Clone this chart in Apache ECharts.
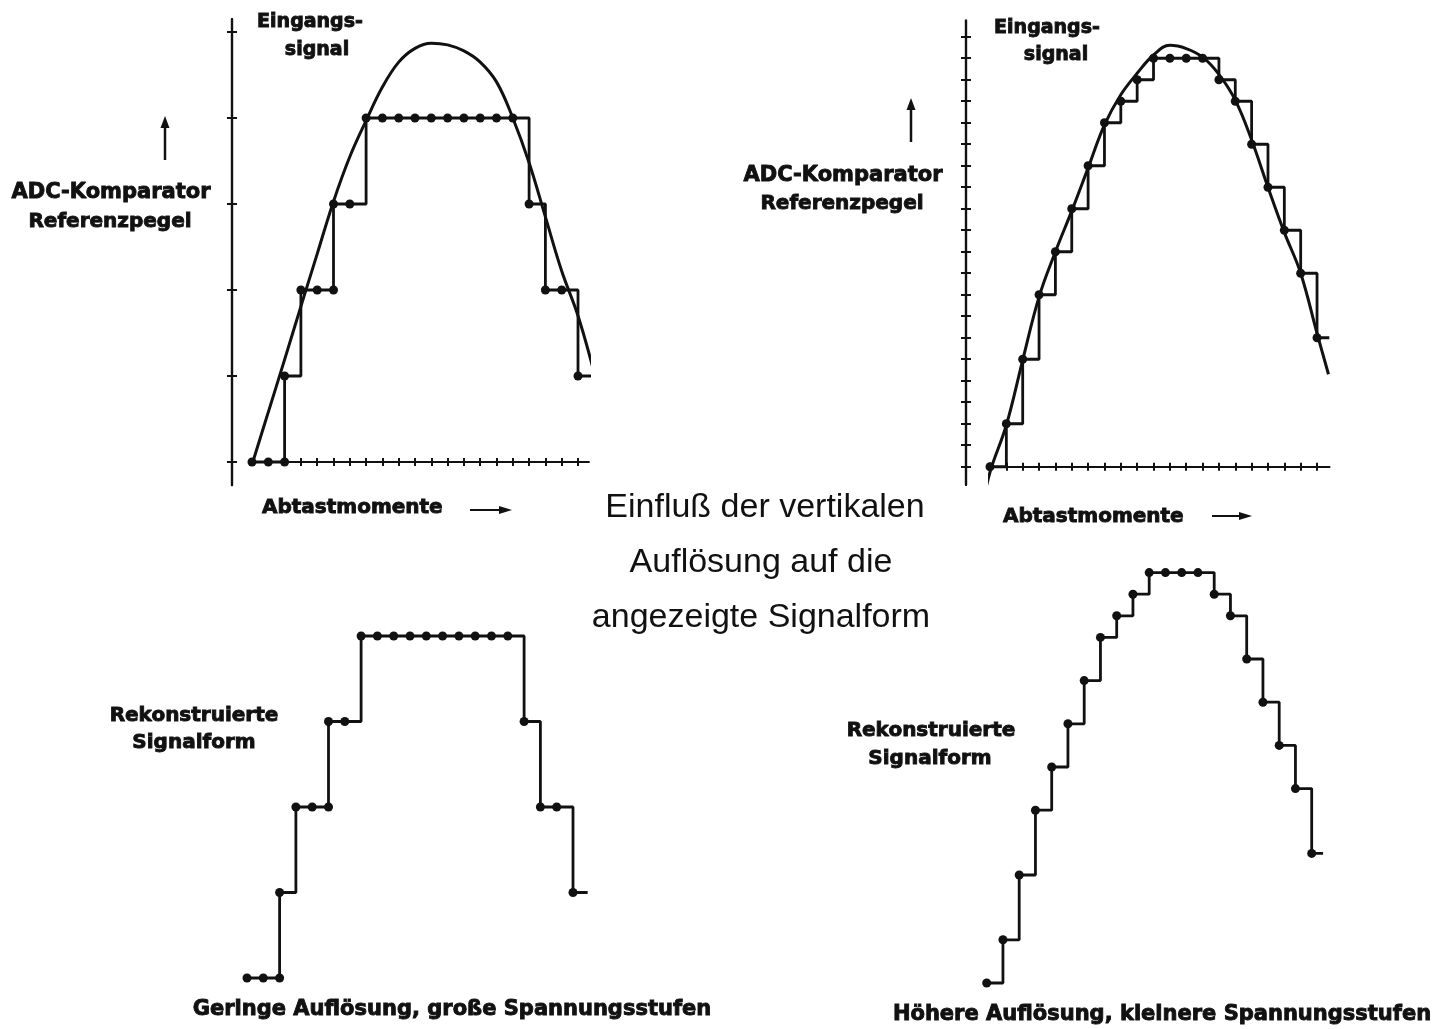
<!DOCTYPE html>
<html lang="de">
<head>
<meta charset="UTF-8">
<title>Einfluß der vertikalen Auflösung</title>
<style>
  html, body { margin: 0; padding: 0; background: #fff; }
  #chart { width: 1447px; height: 1029px; }
</style>
</head>
<body>
<div id="chart"></div>
<script src="https://cdn.jsdelivr.net/npm/echarts@6/dist/echarts.min.js"></script>
<script>
// Abtastmomente (Index des Abtastzeitpunkts)
var sampleTimes = [0, 1, 2, 3, 4, 5, 6, 7, 8, 9, 10, 11, 12, 13, 14, 15, 16, 17, 18, 19, 20];

// geringe Auflösung: 5 Spannungsstufen
var lowLevels = [0, 0, 1, 2, 2, 3, 3, 4, 4, 4, 4, 4, 4, 4, 4, 4, 4, 3, 2, 2, 1];
var lowExtraDots = [[2, 0], [5, 2]];
var lowHoldEnd = 20.9;
var lowTicks = [0, 1, 2, 3, 4, 5];
var lowCurveX = [0.05, 1, 2, 3, 4, 5, 6, 7, 8, 9, 10, 11, 12, 13, 14, 15, 16, 17, 18, 19, 20, 21];
var lowCurveY = [0, 0.58, 1.19, 1.81, 2.42, 3.03, 3.55, 3.97, 4.36, 4.65, 4.81, 4.87, 4.85, 4.78, 4.65, 4.42, 4.0, 3.48, 2.85, 2.22, 1.7, 1.03];

// höhere Auflösung: 20 Spannungsstufen
var highLevels = [0, 2, 5, 8, 10, 12, 14, 16, 17, 18, 19, 19, 19, 19, 18, 17, 15, 13, 11, 9, 6];
var highHoldEnd = 20.75;
var highTicks = [0, 1, 2, 3, 4, 5, 6, 7, 8, 9, 10, 11, 12, 13, 14, 15, 16, 17, 18, 19, 20];
var highCurveX = [-0.2, 0.1, 1, 2, 3, 4, 5, 6, 7, 8, 9, 10, 11, 12, 13, 14, 15, 16, 17, 18, 19, 20, 20.7];
var highCurveY = [-0.85, 0, 1.94, 4.96, 7.9, 10.0, 11.9, 13.9, 15.9, 17.3, 18.3, 19.15, 19.6, 19.45, 19.05, 18.25, 17.05, 15.2, 13.0, 10.9, 9.0, 6.2, 4.3];

var ink = '#111';
var boldFont = 'bold 20px "DejaVu Sans"';
var capFont = 'bold 21px "DejaVu Sans"';

function pairs(xs, ys) {
    return xs.map(function (x, k) { return [x, ys[k]]; });
}
function holdData(levels, holdEnd) {
    var d = sampleTimes.map(function (t, k) { return [t, levels[k]]; });
    d.push({ value: [holdEnd, levels[levels.length - 1]], symbol: 'none' });
    return d;
}

// Achsen mit Kreuz-Strichen: je eine Achse mit Strichen nach außen und eine nach innen
function xAx(grid, max, inside, len) {
    return {
        type: 'value', gridIndex: grid, position: 'bottom', min: 0, max: max,
        axisLine: { onZero: true, lineStyle: { color: ink, width: 2.2 } },
        axisTick: { show: true, inside: inside, length: len, customValues: sampleTimes, lineStyle: { color: ink, width: 2 } },
        axisLabel: { show: false }, splitLine: { show: false }
    };
}
function yAx(grid, min, max, ticks, inside, len, offset) {
    return {
        type: 'value', gridIndex: grid, position: 'left', min: min, max: max, offset: offset,
        axisLine: { onZero: false, lineStyle: { color: ink, width: 2.2 } },
        axisTick: { show: true, inside: inside, length: len, customValues: ticks, lineStyle: { color: ink, width: 2 } },
        axisLabel: { show: false }, splitLine: { show: false }
    };
}
function hidden(grid, max) {
    return { type: 'value', gridIndex: grid, min: 0, max: max, show: false, splitLine: { show: false } };
}

function curveSeries(xi, yi, xs, ys) {
    return {
        type: 'line', xAxisIndex: xi, yAxisIndex: yi, data: pairs(xs, ys),
        smooth: 0.4, showSymbol: false, clip: false, silent: true,
        lineStyle: { color: ink, width: 3 }, z: 3
    };
}
function stepSeries(xi, yi, levels, holdEnd) {
    return {
        type: 'line', xAxisIndex: xi, yAxisIndex: yi, data: holdData(levels, holdEnd),
        step: 'end', symbol: 'circle', symbolSize: 9, showAllSymbol: true, clip: false, silent: true,
        itemStyle: { color: ink, opacity: 1 }, lineStyle: { color: ink, width: 2.8 }, z: 4
    };
}
function dotSeries(xi, yi, pts) {
    return {
        type: 'scatter', xAxisIndex: xi, yAxisIndex: yi, data: pts,
        symbolSize: 9, itemStyle: { color: ink, opacity: 1 }, clip: false, silent: true, z: 5
    };
}

// fette Beschriftung: etwas Kontur macht die Schrift kräftiger
function txt(s, x, y, font, align, regular) {
    return {
        type: 'text', silent: true,
        style: {
            text: s, x: x, y: y, font: font || boldFont, fill: ink,
            stroke: regular ? null : ink, lineWidth: regular ? 0 : 0.9,
            textAlign: align || 'center', textVerticalAlign: 'middle'
        }
    };
}
function upArrow(x, yBottom, yTop) {
    return [
        { type: 'line', silent: true, shape: { x1: x, y1: yBottom, x2: x, y2: yTop + 10 }, style: { stroke: ink, lineWidth: 2.5 } },
        { type: 'polygon', silent: true, shape: { points: [[x - 4.5, yTop + 12], [x + 4.5, yTop + 12], [x, yTop]] }, style: { fill: ink } }
    ];
}
function rightArrow(xLeft, xRight, y) {
    return [
        { type: 'line', silent: true, shape: { x1: xLeft, y1: y, x2: xRight - 10, y2: y }, style: { stroke: ink, lineWidth: 2 } },
        { type: 'polygon', silent: true, shape: { points: [[xRight - 13, y - 4], [xRight - 13, y + 4], [xRight, y]] }, style: { fill: ink } }
    ];
}

var titleFont = '34px "Liberation Sans"';
var elements = [
    txt('Eingangs-', 310, 22, 'bold 19px "DejaVu Sans"'),
    txt('signal', 317, 50, 'bold 19px "DejaVu Sans"'),
    txt('ADC-Komparator', 111, 193, 'bold 21px "DejaVu Sans"'),
    txt('Referenzpegel', 110, 222, 'bold 20px "DejaVu Sans"'),
    txt('Abtastmomente', 262, 508, boldFont, 'left'),
    txt('Eingangs-', 1047, 28, 'bold 19px "DejaVu Sans"'),
    txt('signal', 1056, 55, 'bold 19px "DejaVu Sans"'),
    txt('ADC-Komparator', 843, 176, 'bold 21px "DejaVu Sans"'),
    txt('Referenzpegel', 842, 204, 'bold 20px "DejaVu Sans"'),
    txt('Abtastmomente', 1003, 517, boldFont, 'left'),
    txt('Einfluß der vertikalen', 765, 508, titleFont, 'center', true),
    txt('Auflösung auf die', 761, 563, titleFont, 'center', true),
    txt('angezeigte Signalform', 761, 618, titleFont, 'center', true),
    txt('Rekonstruierte', 194, 716, boldFont),
    txt('Signalform', 194, 743, boldFont),
    txt('Rekonstruierte', 931, 731, boldFont),
    txt('Signalform', 930, 759, boldFont),
    txt('Geringe Auflösung, große Spannungsstufen', 452, 1010, capFont),
    txt('Höhere Auflösung, kleinere Spannungsstufen', 1162, 1015, capFont)
].concat(upArrow(165, 160, 116), upArrow(911, 142, 98), rightArrow(470, 512, 510), rightArrow(1212, 1252, 516));

var option = {
    backgroundColor: '#fff',
    animation: false,
    grid: [
        { left: 252, top: 19.1, width: 336.6, height: 466.1, outerBoundsMode: 'none' },
        { left: 990, top: 20.6, width: 339.3, height: 464.4, outerBoundsMode: 'none' },
        { left: 247, top: 636, width: 342.3, height: 342, outerBoundsMode: 'none' },
        { left: 986.7, top: 572.6, width: 341.25, height: 410.4, outerBoundsMode: 'none' }
    ],
    xAxis: [
        xAx(0, 20.65, false, 4), xAx(0, 20.65, true, 4),
        xAx(1, 20.75, false, 4), xAx(1, 20.75, true, 4),
        hidden(2, 21), hidden(3, 21)
    ],
    yAxis: [
        yAx(0, -0.27, 5.15, lowTicks, false, 5, 20), yAx(0, -0.27, 5.15, lowTicks, true, 5, 20),
        yAx(1, -0.85, 20.75, highTicks, false, 5, 24), yAx(1, -0.85, 20.75, highTicks, true, 5, 24),
        hidden(2, 4), hidden(3, 19)
    ],
    series: [
        curveSeries(0, 0, lowCurveX, lowCurveY),
        stepSeries(0, 0, lowLevels, lowHoldEnd),
        dotSeries(0, 0, lowExtraDots),
        curveSeries(2, 2, highCurveX, highCurveY),
        stepSeries(2, 2, highLevels, highHoldEnd),
        stepSeries(4, 4, lowLevels, 20.9),
        dotSeries(4, 4, lowExtraDots),
        stepSeries(5, 5, highLevels, 20.7)
    ],
    graphic: { elements: elements }
};

var chart = echarts.init(document.getElementById('chart'));
chart.setOption(option);
</script>
</body>
</html>
